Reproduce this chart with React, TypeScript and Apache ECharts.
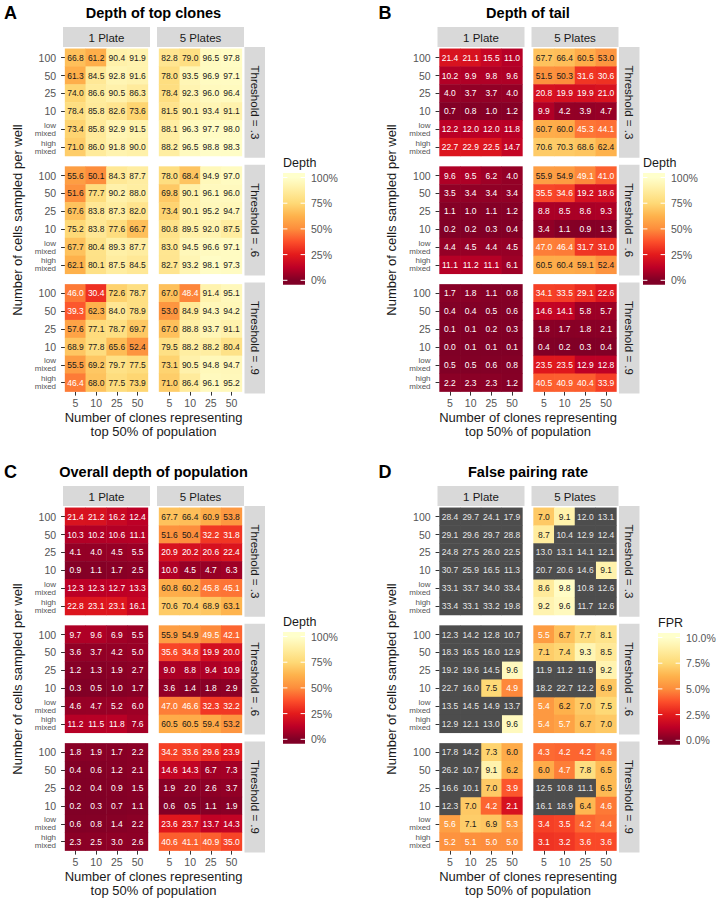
import React, { useEffect, useRef } from "react";
import * as echarts from "echarts";

// ---------- categories ----------
const clones = ["5", "10", "25", "50"];
const cellsPerWell = ["100", "50", "25", "10", "low mixed", "high mixed"];
const plates = ["1 Plate", "5 Plates"];
const thresholds = ["Threshold = .3", "Threshold = .6", "Threshold = .9"];
const depthTicks = ["0%", "25%", "50%", "75%", "100%"];
const fprTicks = ["0.0%", "2.5%", "5.0%", "7.5%", "10.0%"];

// ---------- A: depth of top clones ----------
const topT3P1 = [[66.8, 61.2, 90.4, 91.9], [61.3, 84.5, 92.8, 91.6], [74.0, 86.6, 90.5, 86.3], [78.4, 85.8, 82.6, 73.6], [73.4, 85.8, 92.9, 91.5], [71.0, 86.0, 91.8, 90.0]];
const topT3P5 = [[82.8, 79.0, 96.5, 97.8], [78.0, 93.5, 96.9, 97.1], [78.4, 92.3, 96.0, 96.4], [81.5, 90.1, 93.4, 91.1], [88.1, 96.3, 97.7, 98.0], [88.2, 96.5, 98.8, 98.3]];
const topT6P1 = [[55.6, 50.1, 84.3, 87.7], [51.6, 77.7, 90.2, 88.0], [67.6, 83.8, 87.3, 82.0], [75.2, 83.8, 77.6, 66.7], [67.7, 80.4, 89.3, 87.7], [62.1, 80.1, 87.5, 84.5]];
const topT6P5 = [[78.0, 68.4, 94.9, 97.0], [69.8, 90.1, 96.1, 96.0], [73.4, 90.1, 95.2, 94.7], [80.8, 89.5, 92.0, 87.5], [83.0, 94.5, 96.6, 97.1], [82.7, 93.2, 98.1, 97.3]];
const topT9P1 = [[46.0, 30.4, 72.6, 78.7], [39.3, 62.3, 84.0, 78.9], [57.6, 77.1, 78.7, 69.7], [68.9, 77.8, 65.6, 52.4], [55.5, 69.2, 79.7, 77.5], [46.4, 68.0, 77.5, 73.9]];
const topT9P5 = [[67.0, 48.4, 91.4, 95.1], [53.0, 84.9, 94.3, 94.2], [67.0, 88.8, 93.7, 91.1], [79.5, 88.2, 88.2, 80.4], [73.1, 90.5, 94.8, 94.7], [71.0, 86.4, 96.1, 95.2]];

// ---------- B: depth of tail ----------
const tailT3P1 = [[21.4, 21.1, 15.5, 11.0], [10.2, 9.9, 9.8, 9.6], [4.0, 3.7, 3.7, 4.0], [0.7, 0.8, 1.0, 1.2], [12.2, 12.0, 12.0, 11.8], [22.7, 22.9, 22.5, 14.7]];
const tailT3P5 = [[67.7, 66.4, 60.5, 53.0], [51.5, 50.3, 31.6, 30.6], [20.8, 19.9, 19.9, 21.0], [9.9, 4.2, 3.9, 4.7], [60.7, 60.0, 45.3, 44.1], [70.6, 70.3, 68.6, 62.4]];
const tailT6P1 = [[9.6, 9.5, 6.2, 4.0], [3.5, 3.4, 3.4, 3.4], [1.1, 1.0, 1.1, 1.2], [0.2, 0.2, 0.3, 0.4], [4.4, 4.5, 4.4, 4.5], [11.1, 11.2, 11.1, 6.1]];
const tailT6P5 = [[55.9, 54.9, 49.1, 41.0], [35.5, 34.6, 19.2, 18.6], [8.8, 8.5, 8.6, 9.3], [3.4, 1.1, 0.9, 1.3], [47.0, 46.4, 31.7, 31.0], [60.5, 60.4, 59.1, 52.4]];
const tailT9P1 = [[1.7, 1.8, 1.1, 0.8], [0.4, 0.4, 0.5, 0.6], [0.1, 0.1, 0.2, 0.3], [0.0, 0.1, 0.1, 0.1], [0.5, 0.5, 0.6, 0.8], [2.2, 2.3, 2.3, 1.2]];
const tailT9P5 = [[34.1, 33.5, 29.1, 22.6], [14.6, 14.1, 5.8, 5.7], [1.8, 1.7, 1.8, 2.1], [0.4, 0.2, 0.3, 0.4], [23.5, 23.5, 12.9, 12.8], [40.5, 40.9, 40.4, 33.9]];

// ---------- C: overall depth of population ----------
const overallT3P1 = [[21.4, 21.2, 16.2, 12.4], [10.3, 10.2, 10.6, 11.1], [4.1, 4.0, 4.5, 5.5], [0.9, 1.1, 1.7, 2.5], [12.3, 12.3, 12.7, 13.3], [22.8, 23.1, 23.1, 16.1]];
const overallT3P5 = [[67.7, 66.4, 60.9, 53.8], [51.6, 50.4, 32.2, 31.8], [20.9, 20.2, 20.6, 22.4], [10.0, 4.5, 4.7, 6.3], [60.8, 60.2, 45.8, 45.1], [70.6, 70.4, 68.9, 63.1]];
const overallT6P1 = [[9.7, 9.6, 6.9, 5.5], [3.6, 3.7, 4.2, 5.0], [1.2, 1.3, 1.9, 2.7], [0.3, 0.5, 1.0, 1.7], [4.6, 4.7, 5.2, 6.0], [11.2, 11.5, 11.8, 7.6]];
const overallT6P5 = [[55.9, 54.9, 49.5, 42.1], [35.6, 34.8, 19.9, 20.0], [9.0, 8.8, 9.4, 10.9], [3.6, 1.4, 1.8, 2.9], [47.0, 46.6, 32.3, 32.2], [60.5, 60.5, 59.4, 53.2]];
const overallT9P1 = [[1.8, 1.9, 1.7, 2.2], [0.4, 0.6, 1.2, 2.1], [0.2, 0.4, 0.9, 1.5], [0.2, 0.3, 0.7, 1.1], [0.6, 0.8, 1.4, 2.2], [2.3, 2.5, 3.0, 2.6]];
const overallT9P5 = [[34.2, 33.6, 29.6, 23.9], [14.6, 14.3, 6.7, 7.3], [1.9, 2.0, 2.6, 3.7], [0.6, 0.5, 1.1, 1.9], [23.6, 23.7, 13.7, 14.3], [40.6, 41.1, 40.9, 35.0]];

// ---------- D: false pairing rate ----------
const fprT3P1 = [[28.4, 29.7, 24.1, 17.9], [29.1, 29.6, 29.7, 28.8], [24.8, 27.5, 26.0, 22.5], [30.7, 25.9, 16.5, 11.3], [33.1, 33.7, 34.0, 33.4], [33.4, 33.1, 33.2, 19.8]];
const fprT3P5 = [[7.0, 9.1, 12.0, 13.1], [8.7, 10.4, 12.9, 12.4], [13.0, 13.1, 14.1, 12.1], [20.7, 20.6, 14.6, 9.1], [8.6, 9.8, 10.8, 12.6], [9.2, 9.6, 11.7, 12.6]];
const fprT6P1 = [[12.3, 14.2, 12.8, 10.7], [18.3, 16.5, 16.0, 12.9], [19.2, 19.6, 14.5, 9.6], [22.7, 16.0, 7.5, 4.9], [13.5, 14.5, 14.9, 13.7], [12.9, 12.1, 13.0, 9.6]];
const fprT6P5 = [[5.5, 6.7, 7.7, 8.1], [7.1, 7.4, 9.3, 8.5], [11.9, 11.2, 11.9, 9.2], [18.2, 22.7, 12.2, 6.9], [5.4, 6.2, 7.0, 7.5], [5.4, 5.7, 6.7, 7.0]];
const fprT9P1 = [[17.8, 14.2, 7.3, 6.0], [26.2, 10.7, 9.1, 6.2], [16.6, 10.1, 7.0, 3.9], [12.3, 7.0, 4.2, 2.1], [5.6, 7.1, 6.9, 5.3], [5.2, 5.1, 5.0, 5.0]];
const fprT9P5 = [[4.3, 4.2, 4.2, 4.6], [6.0, 4.7, 7.8, 6.5], [12.5, 10.8, 11.1, 6.5], [16.1, 18.9, 6.4, 4.6], [3.4, 3.5, 4.2, 4.4], [3.1, 3.2, 3.6, 3.6]];

const FONT = "'Liberation Sans', Arial, sans-serif";
const PAL = ["#800026", "#bd0026", "#e31a1c", "#fc4e2a", "#fd8d3c", "#feb24c", "#fed976", "#ffeda0", "#ffffcc"];
const NA_COLOR = "#4d4d4d";

type PanelDef = {
  letter: string;
  title: string;
  dx: number;
  dy: number;
  facets: number[][][][];
  max: number;
  whiteBelow: number;
  legendTitle: string;
  legendTicks: string[];
  legendX: number;
  legendY: number;
};

const panels: PanelDef[] = [
  { letter: "A", title: "Depth of top clones", dx: 0, dy: 0, facets: [[topT3P1, topT3P5], [topT6P1, topT6P5], [topT9P1, topT9P5]], max: 100, whiteBelow: 50, legendTitle: "Depth", legendTicks: depthTicks, legendX: 283, legendY: 163 },
  { letter: "B", title: "Depth of tail", dx: 374.5, dy: 0, facets: [[tailT3P1, tailT3P5], [tailT6P1, tailT6P5], [tailT9P1, tailT9P5]], max: 100, whiteBelow: 50, legendTitle: "Depth", legendTicks: depthTicks, legendX: 643, legendY: 163 },
  { letter: "C", title: "Overall depth of population", dx: 0, dy: 459, facets: [[overallT3P1, overallT3P5], [overallT6P1, overallT6P5], [overallT9P1, overallT9P5]], max: 100, whiteBelow: 50, legendTitle: "Depth", legendTicks: depthTicks, legendX: 283, legendY: 622 },
  { letter: "D", title: "False pairing rate", dx: 374.5, dy: 459, facets: [[fprT3P1, fprT3P5], [fprT6P1, fprT6P5], [fprT9P1, fprT9P5]], max: 10, whiteBelow: 6, legendTitle: "FPR", legendTicks: fprTicks, legendX: 658, legendY: 623 },
];

// layout constants (px)
const PANEL_X0 = 63;
const PANEL_Y0 = 47;
const PANEL_W = 87;
const PANEL_H = 110.8;
const GAP = 7;
const INSET_X = (PANEL_W * 0.1) / 4.2;
const INSET_Y = (PANEL_H * 0.1) / 6.2;
const STRIP = 20.5;

function buildOption() {
  const grid: any[] = [];
  const xAxis: any[] = [];
  const yAxis: any[] = [];
  const series: any[] = [];
  const visualMap: any[] = [];
  const graphic: any[] = [];
  const naSeriesIdx: number[] = [];

  const cellLabel = { show: true, fontSize: 8.5, fontFamily: FONT, formatter: (q: any) => q.value[2].toFixed(1) };

  panels.forEach((p) => {
    const seriesIdx: number[] = [];
    // titles
    graphic.push({ type: "text", x: 4 + p.dx, y: 13 + p.dy, silent: true, style: { text: p.letter, fontSize: 18, fontWeight: 900, fontFamily: FONT, fill: "#000", align: "left", verticalAlign: "middle" } });
    graphic.push({ type: "text", x: 153.5 + p.dx, y: 13 + p.dy, silent: true, style: { text: p.title, fontSize: 14.5, fontWeight: "bold", fontFamily: FONT, fill: "#000", align: "center", verticalAlign: "middle" } });
    // axis titles
    graphic.push({ type: "text", x: 17 + p.dx, y: 220 + p.dy, rotation: Math.PI / 2, silent: true, style: { text: "Number of cells sampled per well", fontSize: 13, fontFamily: FONT, fill: "#1a1a1a", align: "center", verticalAlign: "middle" } });
    graphic.push({ type: "text", x: 153.5 + p.dx, y: 424 + p.dy, silent: true, style: { text: "Number of clones representing\ntop 50% of population", fontSize: 13, lineHeight: 14, fontFamily: FONT, fill: "#1a1a1a", align: "center", verticalAlign: "middle" } });

    p.facets.forEach((row, r) => {
      const py = PANEL_Y0 + p.dy + r * (PANEL_H + GAP);
      // right strip
      const sx = PANEL_X0 + p.dx + 2 * PANEL_W + GAP + 0.5;
      graphic.push({ type: "rect", silent: true, shape: { x: sx, y: py, width: STRIP, height: PANEL_H }, style: { fill: "#d9d9d9" } });
      graphic.push({ type: "text", silent: true, x: sx + STRIP / 2, y: py + PANEL_H / 2, rotation: -Math.PI / 2, style: { text: thresholds[r], fontSize: 11.5, fontFamily: FONT, fill: "#1a1a1a", align: "center", verticalAlign: "middle" } });

      row.forEach((vals, c) => {
        const px = PANEL_X0 + p.dx + c * (PANEL_W + GAP);
        if (r === 0) {
          graphic.push({ type: "rect", silent: true, shape: { x: px, y: 27 + p.dy, width: PANEL_W, height: 20 }, style: { fill: "#d9d9d9" } });
          graphic.push({ type: "text", silent: true, x: px + PANEL_W / 2, y: 37.5 + p.dy, style: { text: plates[c], fontSize: 11.5, fontFamily: FONT, fill: "#1a1a1a", align: "center", verticalAlign: "middle" } });
        }
        const gi = grid.length;
        grid.push({ left: px + INSET_X, top: py + INSET_Y, width: PANEL_W - 2 * INSET_X, height: PANEL_H - 2 * INSET_Y, containLabel: false });
        xAxis.push({
          type: "category", gridIndex: gi, data: clones,
          axisLine: { show: false }, splitLine: { show: false }, splitArea: { show: false },
          axisTick: { show: r === 2, alignWithLabel: true, length: 4, lineStyle: { color: "#333" } },
          axisLabel: { show: r === 2, fontSize: 10.5, color: "#555", margin: 6, fontFamily: FONT },
        });
        yAxis.push({
          type: "category", gridIndex: gi, data: cellsPerWell, inverse: true,
          axisLine: { show: false }, splitLine: { show: false }, splitArea: { show: false },
          axisTick: { show: c === 0, alignWithLabel: true, length: 4, lineStyle: { color: "#333" } },
          axisLabel: {
            show: c === 0, margin: 9,
            formatter: (v: string) => (v.indexOf(" ") >= 0 ? v.split(" ").map((s) => "{s|" + s + "}").join("\n") : "{n|" + v + "}"),
            rich: {
              n: { fontSize: 10.5, color: "#555", fontFamily: FONT },
              s: { fontSize: 8, lineHeight: 8, color: "#555", fontFamily: FONT, align: "right" },
            },
          },
        });
        const inData: any[] = [];
        const naData: any[] = [];
        vals.forEach((rowVals, yi) =>
          rowVals.forEach((v, xi) => {
            if (v > p.max) {
              naData.push({ value: [xi, yi, v], label: { color: "#e8e8e8" } });
            } else {
              inData.push({ value: [xi, yi, v], label: { color: v < p.whiteBelow ? "#ffffff" : "#1a1a1a" } });
            }
          })
        );
        seriesIdx.push(series.length);
        series.push({
          type: "heatmap", xAxisIndex: gi, yAxisIndex: gi, data: inData,
          itemStyle: { borderWidth: 0 },
          emphasis: { disabled: true },
          label: cellLabel,
        });
        if (naData.length) {
          naSeriesIdx.push(series.length);
          series.push({
            type: "heatmap", xAxisIndex: gi, yAxisIndex: gi, data: naData,
            itemStyle: { borderWidth: 0 },
            emphasis: { disabled: true },
            label: cellLabel,
          });
        }
      });
    });

    visualMap.push({
      type: "continuous", show: false, min: 0, max: p.max, dimension: 2, seriesIndex: seriesIdx,
      inRange: { color: PAL },
    });

    // legend
    const lx = p.legendX;
    const ly = p.legendY;
    const topV = ly + 14.5;
    const step = 25.7;
    const botV = topV + 4 * step;
    const barTop = topV - 4.5;
    const barBot = botV + 4.5;
    const barH = barBot - barTop;
    const stops = PAL.map((col, i) => {
      const yv = botV - (i / (PAL.length - 1)) * (botV - topV);
      return { offset: (yv - barTop) / barH, color: col };
    }).reverse();
    const fullStops = [{ offset: 0, color: PAL[PAL.length - 1] }, ...stops, { offset: 1, color: PAL[0] }];
    graphic.push({ type: "text", silent: true, x: lx, y: ly, style: { text: p.legendTitle, fontSize: 12.5, fontFamily: FONT, fill: "#1a1a1a", align: "left", verticalAlign: "middle" } });
    graphic.push({ type: "rect", silent: true, shape: { x: lx, y: barTop, width: 22, height: barH }, style: { fill: new echarts.graphic.LinearGradient(0, 0, 0, 1, fullStops) } });
    p.legendTicks.forEach((t, i) => {
      const yy = botV - i * step;
      graphic.push({ type: "line", silent: true, shape: { x1: lx, y1: yy, x2: lx + 4.4, y2: yy }, style: { stroke: "#fff", lineWidth: 1 } });
      graphic.push({ type: "line", silent: true, shape: { x1: lx + 22 - 4.4, y1: yy, x2: lx + 22, y2: yy }, style: { stroke: "#fff", lineWidth: 1 } });
      graphic.push({ type: "text", silent: true, x: lx + 28, y: yy, style: { text: t, fontSize: 10.5, fontFamily: FONT, fill: "#555", align: "left", verticalAlign: "middle" } });
    });
  });

  if (naSeriesIdx.length) {
    visualMap.push({
      type: "continuous", show: false, min: 0, max: 100, dimension: 2, seriesIndex: naSeriesIdx,
      inRange: { color: [NA_COLOR, NA_COLOR] },
    });
  }

  return { animation: false, backgroundColor: "#fff", grid, xAxis, yAxis, series, visualMap, graphic };
}

export default function App() {
  const ref = useRef<HTMLDivElement>(null);
  useEffect(() => {
    document.body.style.margin = "0";
    if (!ref.current) return;
    const chart = echarts.init(ref.current, null, { renderer: "svg" });
    chart.setOption(buildOption() as any);
    return () => chart.dispose();
  }, []);
  return <div ref={ref} style={{ width: 720, height: 901, background: "#fff" }} />;
}
